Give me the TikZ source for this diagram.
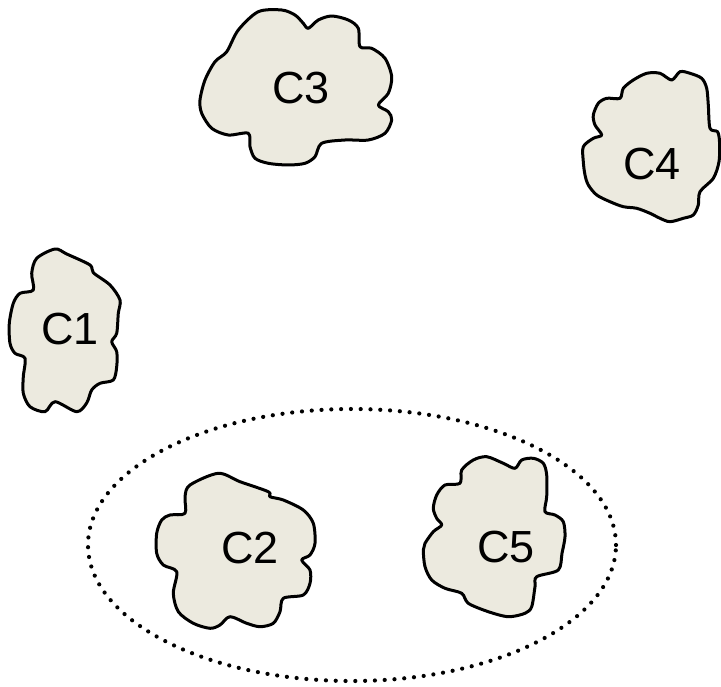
\documentclass[tikz,border=0pt]{standalone}
\usepackage{fontspec}
\setmainfont{Liberation Sans}
\usetikzlibrary{shapes.geometric}

\definecolor{blobfill}{RGB}{236,234,223}

\begin{document}
\begin{tikzpicture}[
    x=1pt, y=-1pt,
    blob/.style={draw=black, fill=blobfill, line width=3pt, line join=round},
    cname/.style={font=\fontsize{45}{48}\selectfont, inner sep=0pt},
    group/.style={draw=black, line width=4.2pt, line cap=round, dash pattern=on 0pt off 9.8pt}
]
    \useasboundingbox (0,0) rectangle (721,687);

    % Grouping ring round C2 and C5
    \node[group, ellipse, minimum width=528pt, minimum height=272pt] (grp) at (352,545) {};

    % Cluster outlines
    \draw[blob] plot[smooth cycle, tension=0.5] coordinates {
        (55,249) (66.7,254) (90,265) (93.3,272.7) (110,285) (120,300) (118.3,313.3)
        (116.7,333.3) (111.7,341.7) (116.7,351.7) (116.7,366.7) (113.3,380) (100,383.3)
        (91.7,390) (86.7,403) (76.7,411.7) (55,401.7) (45,411.7) (30,406.7) (23.3,393.3)
        (23.3,376.7) (25,358.3) (15,353.3) (10,343.3) (9.3,323.3) (13.3,303.3) (20,293.3)
        (33.3,290) (31.7,273.3) (36.7,258.3)};

    \draw[blob] plot[smooth cycle, tension=0.5] coordinates {
        (190,485) (218.3,473.3) (240,481.7) (268.3,491.7) (270,496.7) (283.3,500)
        (303.3,510) (313.3,523.3) (315,543.3) (310,555) (301.7,560) (310,570) (310,583.3)
        (303.3,595) (283.3,598.3) (280,611.7) (273.3,623.3) (260,626.7) (246.7,623.3)
        (230,616.7) (220,625) (210,628.3) (193.3,623.3) (178.3,611.7) (173.3,593.3)
        (176.7,571.7) (163.3,565) (156.7,553.3) (156.7,533.3) (161.7,520) (170,515)
        (185,513.3) (185,496.7)};

    \draw[blob] plot[smooth cycle, tension=0.5] coordinates {
        (226.7,51.7) (238.3,30) (258.3,11.7) (281.7,10) (295,15) (303.3,23.3) (308.3,28.3)
        (318.3,20) (331.7,16) (348.3,20) (358.3,28.3) (360,46.7) (371.7,48.3) (385,58.3)
        (391.7,76.7) (388.3,93.3) (378.3,105) (388.3,111.7) (391.7,120) (385,133.3)
        (368.3,140) (345,140) (321.7,143.3) (315,156.7) (305,163.3) (288.3,165)
        (268.3,163.3) (255,158.3) (250,146.7) (248.3,133.3) (228.3,135) (211.7,128.3)
        (201.7,113.3) (200,100) (205,80) (215,61.7)};

    \draw[blob] plot[smooth cycle, tension=0.5] coordinates {
        (606.7,98.3) (620,98.3) (623.3,88.3) (633.3,80) (646.7,73.3) (660,73.3) (671.7,80)
        (680,71.7) (690,73.3) (701.7,78.3) (706.7,88.3) (708.3,105) (710,128.3)
        (717.5,131.7) (719.5,141.7) (719,161.7) (713.3,178.3) (700,191.7) (698.3,205)
        (693.3,215) (683.3,218.3) (670,221.7) (660,218.3) (650,213.3) (636.7,208.3)
        (623.3,206.7) (610,201.7) (596.7,195) (588.3,185) (585,175) (583.3,161.7)
        (583.3,146.7) (593.3,138.3) (601.7,135) (595,125) (593.3,115) (598.3,103.3)};

    \draw[blob] plot[smooth cycle, tension=0.5] coordinates {
        (461.7,470) (473.3,460) (486.7,456.7) (503.3,463.3) (515,468.3) (521.7,460)
        (533.3,458.3) (543.3,463.3) (546.7,475) (546.7,496.7) (545,511.7) (555,515)
        (563.3,521.7) (565,536.7) (562,553.3) (558.3,570) (536.7,576.7) (535,586.7)
        (531.7,606.7) (525,613.3) (508.3,616.7) (488.3,611.7) (468.3,603.3) (461.7,593.3)
        (445,588.3) (431.7,580) (425,566.7) (423.3,550) (425,543.3) (433.3,531.7)
        (441.7,525) (436.7,518.3) (433.3,508.3) (436.7,495) (445,485) (460,483.3)};

    % Cluster names
    \node[cname] (c1) at (70,329) {C1};
    \node[cname] (c2) at (250,548) {C2};
    \node[cname] (c3) at (301,88) {C3};
    \node[cname] (c4) at (652,164) {C4};
    \node[cname] (c5) at (506,547) {C5};

\end{tikzpicture}
\end{document}
